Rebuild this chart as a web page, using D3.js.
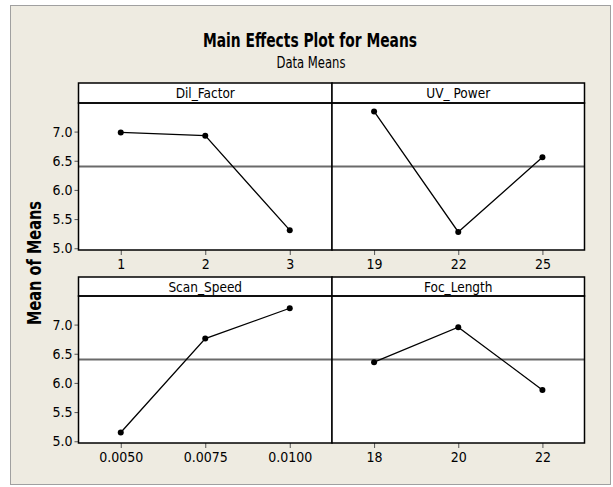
<!DOCTYPE html>
<html>
<head>
<meta charset="utf-8">
<script src="https://cdn.jsdelivr.net/npm/d3@7"></script>
<style>
  html, body { margin: 0; padding: 0; background: #ffffff; }
  svg { display: block; }
  text { font-family: "DejaVu Sans Condensed", "DejaVu Sans", sans-serif; fill: #000; }
</style>
</head>
<body>
<svg id="chart" width="613" height="487"></svg>
<script>
// Factor names (one panel each) and their level labels
const factors = ["Dil_Factor", "UV_ Power", "Scan_Speed", "Foc_Length"];
const dilLevels = ["1", "2", "3"];
const uvLevels = ["19", "22", "25"];
const scanLevels = ["0.0050", "0.0075", "0.0100"];
const focLevels = ["18", "20", "22"];

// Mean of means at each factor level
const dilMeans = [6.985, 6.93, 5.31];
const uvMeans = [7.345, 5.28, 6.56];
const scanMeans = [5.15, 6.76, 7.28];
const focMeans = [6.355, 6.955, 5.88];

// Grand mean (reference line) and y tick values
const grandMean = 6.40;
const yTicks = [5.0, 5.5, 6.0, 6.5, 7.0];
const yDomain = [4.97, 7.49];

const panelLevels = [dilLevels, uvLevels, scanLevels, focLevels];
const panelMeans = [dilMeans, uvMeans, scanMeans, focMeans];

const svg = d3.select("#chart");

// Outer frame
svg.append("rect")
  .attr("x", 10.5).attr("y", 5.5).attr("width", 600).attr("height", 479)
  .attr("fill", "#eeebe1").attr("stroke", "#a0a0a0").attr("stroke-width", 1);

// Titles
svg.append("text")
  .attr("x", 310).attr("y", 47)
  .attr("text-anchor", "middle")
  .attr("font-weight", "bold").attr("font-size", 19.5)
  .attr("textLength", 214).attr("lengthAdjust", "spacingAndGlyphs")
  .text("Main Effects Plot for Means");
svg.append("text")
  .attr("x", 311).attr("y", 68)
  .attr("text-anchor", "middle")
  .attr("font-size", 16)
  .attr("textLength", 69).attr("lengthAdjust", "spacingAndGlyphs")
  .text("Data Means");

// Panel grid geometry
const colX = [[78.5, 332], [332, 584.5]];
const rowY = [{strip: 83, top: 103, bottom: 250}, {strip: 277, top: 296, bottom: 443}];

// Shared y-axis label
svg.append("text")
  .attr("transform", "translate(41,263) rotate(-90)")
  .attr("text-anchor", "middle")
  .attr("font-family", "'DejaVu Sans', sans-serif")
  .attr("font-weight", "bold").attr("font-size", 20)
  .attr("textLength", 124).attr("lengthAdjust", "spacingAndGlyphs")
  .text("Mean of Means");

factors.forEach((name, i) => {
  const col = i % 2, row = Math.floor(i / 2);
  const [x0, x1] = colX[col];
  const r = rowY[row];
  const g = svg.append("g");

  const x = d3.scalePoint().domain(panelLevels[i]).range([x0, x1]).padding(0.5);
  const y = d3.scaleLinear().domain(yDomain).range([r.bottom, r.top]);

  // plot background
  g.append("rect")
    .attr("x", x0).attr("y", r.top).attr("width", x1 - x0).attr("height", r.bottom - r.top)
    .attr("fill", "#fff");

  // strip with the factor name
  g.append("rect")
    .attr("x", x0).attr("y", r.strip).attr("width", x1 - x0).attr("height", r.top - r.strip)
    .attr("fill", "#fff").attr("stroke", "#000").attr("stroke-width", 1.5);
  g.append("text")
    .attr("x", (x0 + x1) / 2).attr("y", r.strip + 15)
    .attr("text-anchor", "middle").attr("font-size", 13.5)
    .text(name);

  // grand mean reference line
  g.append("line")
    .attr("x1", x0).attr("x2", x1)
    .attr("y1", y(grandMean)).attr("y2", y(grandMean))
    .attr("stroke", "#6a6a6a").attr("stroke-width", 2);

  // x axis
  const xa = g.append("g")
    .attr("transform", `translate(0,${r.bottom})`)
    .call(d3.axisBottom(x).tickSize(5).tickPadding(4));
  xa.select(".domain").remove();
  xa.selectAll(".tick line").attr("stroke", "#555");
  xa.selectAll(".tick text")
    .attr("font-family", "'DejaVu Sans Condensed', 'DejaVu Sans', sans-serif")
    .attr("font-size", 14).attr("fill", "#000");

  // y axis on the left column only
  if (col === 0) {
    const ya = g.append("g")
      .attr("transform", `translate(${x0},0)`)
      .call(d3.axisLeft(y).tickValues(yTicks).tickFormat(d3.format(".1f")).tickSize(4).tickPadding(2));
    ya.select(".domain").remove();
    ya.selectAll(".tick line").attr("stroke", "#555");
    ya.selectAll(".tick text")
      .attr("font-family", "'DejaVu Sans Condensed', 'DejaVu Sans', sans-serif")
      .attr("font-size", 14).attr("fill", "#000");
  }

  // connecting line and level means
  const pts = panelLevels[i].map((lv, k) => [x(lv), y(panelMeans[i][k])]);
  g.append("path")
    .attr("d", d3.line()(pts))
    .attr("fill", "none").attr("stroke", "#000").attr("stroke-width", 1.3);
  g.selectAll("circle").data(pts).join("circle")
    .attr("cx", d => d[0]).attr("cy", d => d[1]).attr("r", 3)
    .attr("fill", "#000");

  // plot border
  g.append("rect")
    .attr("x", x0).attr("y", r.top).attr("width", x1 - x0).attr("height", r.bottom - r.top)
    .attr("fill", "none").attr("stroke", "#000").attr("stroke-width", 1.5);
});
</script>
</body>
</html>
